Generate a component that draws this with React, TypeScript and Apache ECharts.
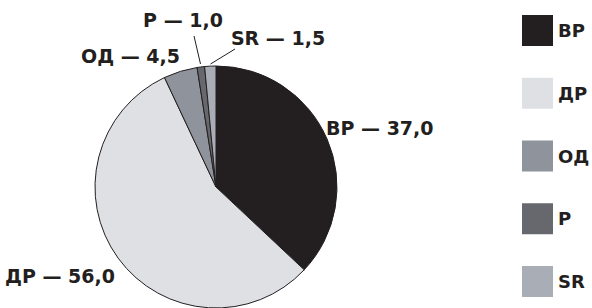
import React, { useEffect, useRef } from "react";
import * as echarts from "echarts";

const categories = ["ВР", "ДР", "ОД", "Р", "SR"];
const values = [37.0, 56.0, 4.5, 1.0, 1.5];
const colors = ["#231f20", "#dfe0e4", "#8f939b", "#66686e", "#a9adb5"];

// label placements (anchor x, middle y, alignment, leader line from text to slice edge)
const labelPlaces: Array<{ x: number; y: number; align: string; line: number[][] | null }> = [
  { x: 326, y: 128, align: "left", line: null },
  { x: 115, y: 276, align: "right", line: null },
  { x: 180, y: 56, align: "right", line: null },
  { x: 183, y: 20, align: "center", line: [[194, 36], [200.5, 64]] },
  { x: 278, y: 38, align: "center", line: [[235, 49], [210.5, 64]] },
];

const fmt = (v: number) => v.toFixed(1).replace(".", ",");

export default function App() {
  const ref = useRef<HTMLDivElement>(null);
  useEffect(() => {
    if (!ref.current) return;
    const chart = echarts.init(ref.current, undefined, { renderer: "svg" });
    const font = "'DejaVu Sans', sans-serif";
    chart.setOption({
      animation: false,
      legend: {
        orient: "vertical",
        left: 517,
        top: 10,
        itemWidth: 31,
        itemHeight: 31,
        itemGap: 31.75,
        icon: "rect",
        data: categories,
        itemStyle: { borderWidth: 0 },
        textStyle: { fontFamily: font, fontWeight: "bold", fontSize: 18, color: "#231f20" },
      },
      series: [
        {
          type: "pie",
          center: [216, 187],
          radius: 121,
          startAngle: 90,
          clockwise: true,
          itemStyle: { borderColor: "#231f20", borderWidth: 1 },
          emphasis: { disabled: true },
          label: {
            show: true,
            position: "outside",
            overflow: "none",
            edgeDistance: 0,
            formatter: (p: any) => `${p.name} — ${fmt(p.value)}`,
            fontFamily: font,
            fontWeight: "bold",
            fontSize: 19,
            color: "#231f20",
          },
          labelLine: { show: true, lineStyle: { color: "#231f20", width: 1 }, length: 5, length2: 5 },
          labelLayout: (params: any) => {
            const p = labelPlaces[params.dataIndex];
            const o: any = { x: p.x, y: p.y, align: p.align, verticalAlign: "middle" };
            if (p.line) o.labelLinePoints = [p.line[1], p.line[0], p.line[0]];
            else o.labelLinePoints = [[0, 0], [0, 0], [0, 0]];
            return o;
          },
          data: categories.map((c, i) => ({
            name: c,
            value: values[i],
            itemStyle: { color: colors[i] },
            labelLine: { show: labelPlaces[i].line != null },
          })),
        },
      ],
    });
    return () => chart.dispose();
  }, []);
  return (
    <div
      ref={ref}
      style={{ position: "fixed", left: 0, top: 0, width: 592, height: 308, background: "#fff" }}
    />
  );
}
